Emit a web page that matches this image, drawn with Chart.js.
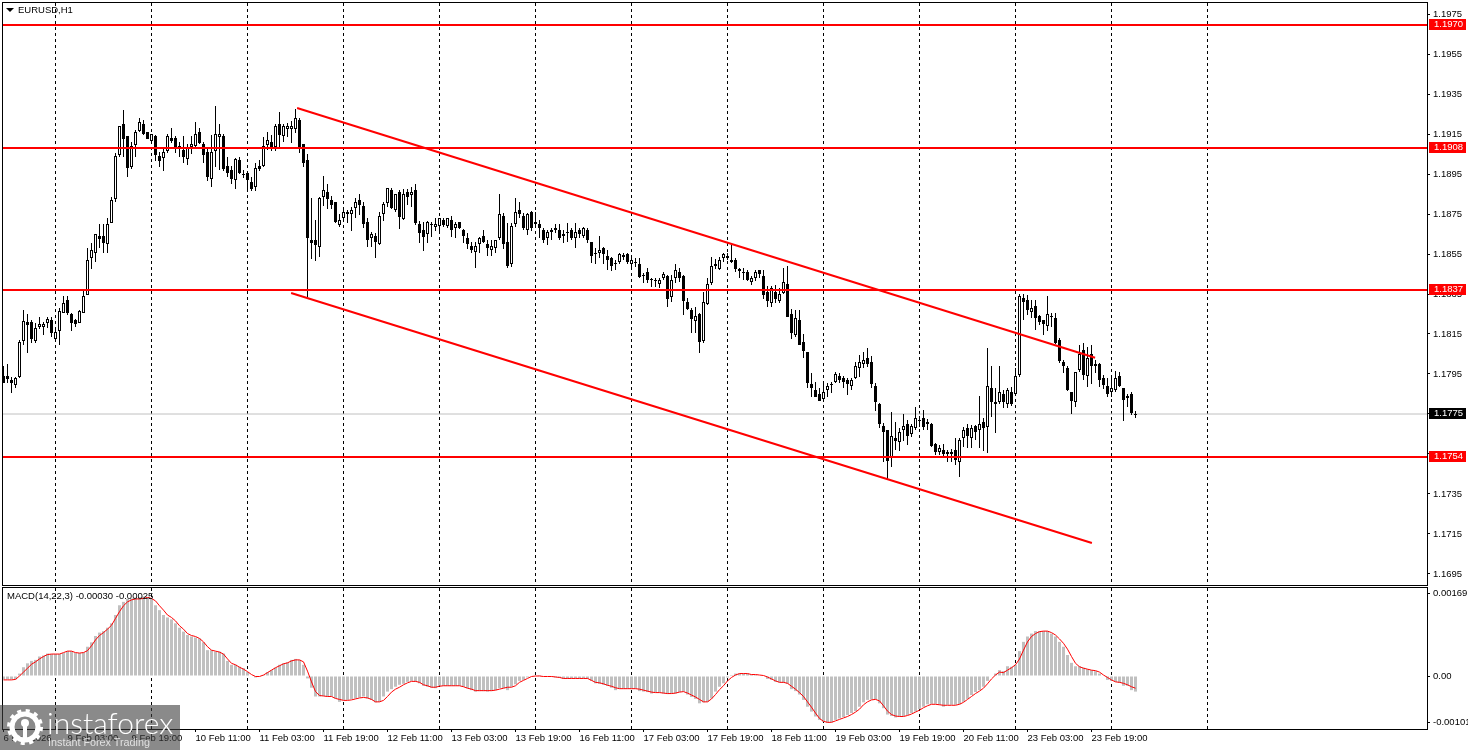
<!DOCTYPE html>
<html>
<head>
<meta charset="utf-8">
<title>EURUSD,H1</title>
<script src="https://cdn.jsdelivr.net/npm/chart.js@4/dist/chart.umd.min.js"></script>
<style>
  html, body { margin: 0; padding: 0; background: #fff; width: 1468px; height: 750px; overflow: hidden; }
  canvas { position: absolute; left: 0; }
  #priceChart { top: 0; }
  #macdChart { top: 587px; }
  .paneTitle { position: absolute; font: 9.5px "Liberation Sans", sans-serif; color: #000; white-space: nowrap; }
  #arrow { position: absolute; left: 6px; top: 8px; width: 0; height: 0; border-left: 4px solid transparent; border-right: 4px solid transparent; border-top: 4px solid #000; }
  #logoBox { position: absolute; left: 0; top: 705px; width: 180px; height: 45px; background: rgba(60, 60, 60, 0.6); }
  #logoBox svg { position: absolute; left: 7px; top: 4px; }
  #logoName { position: absolute; left: 47px; top: -1px; font: 300 30px Lato, sans-serif; color: #fff; white-space: nowrap; }
  #logoSub { position: absolute; left: 48px; top: 31px; font: 10.8px "Liberation Sans", sans-serif; color: rgba(255, 255, 255, 0.75); white-space: nowrap; }
</style>
</head>
<body>
<canvas id="priceChart" width="1468" height="587"></canvas>
<canvas id="macdChart" width="1468" height="163"></canvas>
<div id="arrow"></div>
<div class="paneTitle" style="left:18px;top:4px">EURUSD,H1</div>
<div class="paneTitle" style="left:7px;top:590px">MACD(14,22,3) -0.00030 -0.00025</div>
<div id="logoBox">
  <svg width="36" height="36" viewBox="0 0 36 36">
    <circle cx="18" cy="18" r="13" fill="none" stroke="#fff" stroke-width="5"/>
    <circle cx="18" cy="18" r="16" fill="none" stroke="#fff" stroke-width="4" stroke-dasharray="4 4.4"/>
    <circle cx="18" cy="14" r="4" fill="#fff"/>
    <rect x="16" y="14" width="4" height="15" fill="#fff"/>
  </svg>
  <div id="logoName">instaforex</div>
  <div id="logoSub">Instant Forex Trading</div>
</div>

<script>
// Candles, one hour each
const opens = [
  1.1794,1.1794,1.1792,1.17895,1.17935,1.18115,1.1821,1.1821,1.18115,1.18185,
  1.18185,1.18205,1.1822,1.18125,1.18165,1.18255,1.1832,1.1825,1.1822,1.18205,
  1.18255,1.18345,1.1853,1.18555,1.1864,1.1864,1.186,1.18705,1.18825,1.19045,
  1.192,1.1914,1.18985,1.19095,1.19165,1.192,1.1916,1.19115,1.1914,1.1904,
  1.1903,1.19065,1.1913,1.1913,1.1909,1.1907,1.19025,1.19085,1.1909,1.1916,
  1.191,1.1906,1.18925,1.19065,1.19135,1.1914,1.1899,1.1897,1.1892,1.1902,
  1.1895,1.18955,1.1891,1.18885,1.1899,1.1899,1.19095,1.1911,1.19085,1.192,
  1.1914,1.19175,1.19175,1.19175,1.1922,1.191,1.1902,1.1862,1.1862,1.18585,
  1.18835,1.1886,1.1882,1.1881,1.18695,1.1873,1.1875,1.1875,1.1878,1.1882,
  1.1879,1.1871,1.1863,1.1864,1.186,1.1875,1.18805,1.1887,1.1877,1.1886,
  1.18725,1.1886,1.18845,1.1887,1.187,1.1867,1.1865,1.187,1.18685,1.1869,
  1.1872,1.1869,1.1872,1.1868,1.1871,1.1867,1.1863,1.1859,1.1856,1.186,
  1.1864,1.186,1.1857,1.1858,1.1863,1.1874,1.1861,1.185,1.187,1.1877,
  1.1874,1.1867,1.1876,1.187,1.187,1.1867,1.1863,1.1867,1.1867,1.1867,
  1.1864,1.1866,1.1867,1.1863,1.1867,1.1864,1.1867,1.1861,1.18555,1.18555,
  1.1858,1.1854,1.1853,1.18505,1.1851,1.18535,1.1855,1.185,1.1851,1.185,
  1.18445,1.1846,1.18425,1.1842,1.184,1.1843,1.1844,1.18335,1.1843,1.1846,
  1.1844,1.1831,1.1827,1.18215,1.1825,1.18115,1.183,1.18405,1.185,1.18475,
  1.1853,1.1854,1.1852,1.1852,1.18475,1.1846,1.1846,1.1841,1.1843,1.1847,
  1.1844,1.1836,1.18305,1.1836,1.18315,1.18355,1.184,1.1825,1.18145,1.1822,
  1.1811,1.1806,1.179,1.1787,1.1785,1.17825,1.1787,1.179,1.1791,1.1794,
  1.1793,1.1792,1.1789,1.1793,1.1798,1.18,1.1803,1.1801,1.1789,1.178,
  1.1769,1.1767,1.1753,1.1763,1.1761,1.1767,1.177,1.1765,1.1768,1.1772,
  1.1773,1.177,1.177,1.176,1.1756,1.1757,1.1755,1.1755,1.1757,1.1751,
  1.1763,1.1768,1.1763,1.1769,1.1767,1.1771,1.17685,1.1788,1.178,1.1781,
  1.1785,1.178,1.1786,1.1785,1.17945,1.1833,1.1832,1.1826,1.1829,1.1824,
  1.1822,1.1819,1.18235,1.1823,1.1812,1.1801,1.1798,1.1786,1.1781,1.1797,
  1.1807,1.1794,1.1805,1.18,1.18,1.1793,1.1789,1.1786,1.1787,1.1794,
  1.1788,1.1783,1.1785,1.1775
];
const highs = [
  1.1799,1.18,1.17935,1.17935,1.1812,1.1827,1.1825,1.1822,1.18205,1.18235,
  1.1821,1.18235,1.18235,1.1817,1.1828,1.1834,1.1834,1.18255,1.18225,1.1827,
  1.1837,1.1858,1.18605,1.1865,1.187,1.187,1.1873,1.18835,1.19055,1.1919,
  1.1927,1.1914,1.1911,1.1917,1.1923,1.1922,1.1916,1.1915,1.19145,1.1906,
  1.1908,1.1915,1.1918,1.1914,1.1911,1.1914,1.191,1.1914,1.1921,1.1918,
  1.1911,1.19085,1.19145,1.1929,1.192,1.1915,1.19035,1.1899,1.1903,1.19035,
  1.1897,1.1896,1.18935,1.19005,1.1902,1.19135,1.1916,1.19145,1.192,1.1926,
  1.192,1.19205,1.19215,1.19275,1.1923,1.191,1.1905,1.1883,1.1872,1.18835,
  1.1894,1.189,1.1884,1.1881,1.1875,1.1877,1.1877,1.18785,1.1883,1.1885,
  1.1881,1.1873,1.1866,1.18655,1.1876,1.1881,1.1888,1.1888,1.1885,1.1887,
  1.18875,1.18875,1.18885,1.189,1.18715,1.1871,1.18715,1.1871,1.1873,1.1873,
  1.1873,1.1873,1.1874,1.1871,1.1871,1.18675,1.18655,1.1861,1.1861,1.18635,
  1.1867,1.1862,1.1862,1.1862,1.1885,1.18755,1.18705,1.18705,1.1883,1.1881,
  1.18755,1.18755,1.18765,1.1876,1.1872,1.1868,1.1867,1.1868,1.187,1.187,
  1.1867,1.18705,1.1868,1.18705,1.1868,1.18685,1.1868,1.1861,1.1858,1.1864,
  1.18585,1.1857,1.18535,1.1852,1.18555,1.18555,1.18555,1.18535,1.1853,1.1853,
  1.18455,1.1848,1.1843,1.1843,1.1843,1.1846,1.18445,1.18445,1.185,1.1848,
  1.18445,1.1833,1.1828,1.18285,1.18255,1.1836,1.1843,1.18535,1.18525,1.18535,
  1.18555,1.18555,1.18595,1.1853,1.1848,1.1848,1.1847,1.1844,1.1847,1.1847,
  1.1847,1.1839,1.1839,1.18395,1.1838,1.1848,1.1849,1.18275,1.1827,1.1827,
  1.1815,1.1806,1.17955,1.1791,1.1788,1.1791,1.17905,1.1791,1.1796,1.17955,
  1.1794,1.1793,1.1793,1.1801,1.18045,1.1806,1.1808,1.1804,1.17905,1.17805,
  1.17705,1.1767,1.1776,1.1771,1.1768,1.1775,1.1772,1.177,1.17785,1.1774,
  1.1777,1.17725,1.17705,1.17605,1.17595,1.176,1.1757,1.17575,1.1763,1.1763,
  1.17685,1.177,1.17695,1.17695,1.1784,1.1773,1.1808,1.1799,1.1788,1.1799,
  1.1787,1.1788,1.17885,1.1798,1.1835,1.1835,1.18345,1.1832,1.1832,1.18245,
  1.1822,1.1834,1.18255,1.18255,1.1813,1.1802,1.1799,1.1786,1.1796,1.18095,
  1.18105,1.18085,1.18095,1.1802,1.18005,1.17945,1.1793,1.17945,1.17965,1.1796,
  1.1788,1.1785,1.1786,1.17765
];
const lows = [
  1.17905,1.17905,1.17855,1.1788,1.1793,1.18095,1.18055,1.18105,1.18105,1.18175,
  1.18145,1.1818,1.18135,1.18115,1.18095,1.18255,1.18245,1.18165,1.18185,1.18205,
  1.18255,1.18345,1.18475,1.1851,1.1858,1.18555,1.18555,1.18705,1.1881,1.19035,
  1.19035,1.18935,1.18975,1.19035,1.1916,1.19145,1.19125,1.19105,1.19015,1.18985,
  1.18965,1.19055,1.19105,1.19055,1.19035,1.19005,1.18995,1.1905,1.19085,1.191,
  1.19005,1.18915,1.18885,1.18985,1.1897,1.18965,1.18935,1.189,1.18875,1.1895,
  1.1893,1.1887,1.18865,1.18865,1.18965,1.18985,1.1907,1.19065,1.19065,1.19085,
  1.1911,1.19135,1.19105,1.19155,1.19055,1.18985,1.18335,1.18525,1.18515,1.18535,
  1.1879,1.18775,1.18775,1.18705,1.18685,1.1872,1.18705,1.18665,1.1873,1.18745,
  1.1868,1.18585,1.18585,1.1853,1.18595,1.18715,1.18785,1.18775,1.1876,1.18675,
  1.1872,1.18795,1.18785,1.18695,1.18605,1.18565,1.18605,1.18635,1.18665,1.1866,
  1.18685,1.1868,1.18635,1.1863,1.18675,1.18605,1.18575,1.18555,1.1848,1.18555,
  1.18605,1.1854,1.1854,1.18555,1.1862,1.18575,1.1848,1.18485,1.18685,1.1873,
  1.1867,1.18645,1.18665,1.18685,1.1863,1.18605,1.18595,1.1862,1.18655,1.1862,
  1.18605,1.1861,1.1862,1.1858,1.1863,1.1863,1.18605,1.18505,1.185,1.1853,
  1.185,1.1847,1.18465,1.1847,1.185,1.1852,1.185,1.1847,1.18485,1.1843,
  1.18405,1.18405,1.18385,1.18385,1.1838,1.1842,1.18285,1.1831,1.18405,1.1841,
  1.18245,1.1827,1.18155,1.18155,1.18055,1.18105,1.18295,1.18395,1.18475,1.1847,
  1.1851,1.1852,1.18505,1.1846,1.1843,1.1842,1.18415,1.18395,1.18415,1.1843,
  1.18325,1.18285,1.18285,1.18305,1.18305,1.1835,1.18235,1.18125,1.18135,1.18095,
  1.1803,1.1788,1.17835,1.17835,1.17815,1.17815,1.17835,1.17855,1.17905,1.17905,
  1.1788,1.17845,1.1787,1.17925,1.17935,1.1798,1.17985,1.1788,1.17765,1.1768,
  1.1751,1.1742,1.17485,1.1757,1.17565,1.17615,1.17595,1.17635,1.1767,1.17685,
  1.1767,1.1767,1.17585,1.17545,1.17545,1.1753,1.1751,1.1751,1.17495,1.17435,
  1.17585,1.1758,1.1758,1.1762,1.1758,1.17565,1.17555,1.17735,1.17655,1.178,
  1.1778,1.1778,1.1779,1.17845,1.17935,1.1822,1.18245,1.1823,1.1817,1.18195,
  1.18145,1.18165,1.18185,1.181,1.18005,1.17955,1.17865,1.1775,1.17785,1.1796,
  1.1792,1.17885,1.179,1.17955,1.17885,1.17875,1.17835,1.17835,1.1786,1.17885,
  1.17715,1.17785,1.17745,1.1773
];
const closes = [
  1.17905,1.17925,1.17905,1.1793,1.1811,1.18215,1.18195,1.18125,1.1818,1.182,
  1.182,1.18225,1.18155,1.1816,1.18265,1.18305,1.18255,1.18205,1.182,1.18265,
  1.1834,1.1852,1.1857,1.1865,1.18625,1.18605,1.187,1.1882,1.1904,1.1919,
  1.19125,1.1898,1.1909,1.1916,1.1921,1.1915,1.19125,1.1915,1.19045,1.19015,
  1.1906,1.1914,1.19115,1.1908,1.19085,1.19035,1.19085,1.191,1.1915,1.19105,
  1.19045,1.18935,1.1906,1.1915,1.1915,1.18975,1.18955,1.18925,1.19025,1.18955,
  1.18945,1.1892,1.18875,1.1898,1.18975,1.1909,1.1912,1.19085,1.1919,1.19145,
  1.1919,1.1919,1.1919,1.1923,1.19085,1.19005,1.1863,1.18605,1.18595,1.1883,
  1.1887,1.18825,1.18795,1.1871,1.1872,1.1876,1.1876,1.1877,1.1881,1.18795,
  1.187,1.1862,1.1865,1.1861,1.1874,1.188,1.1888,1.1878,1.1885,1.18735,
  1.1885,1.18835,1.1886,1.18705,1.18655,1.18635,1.1871,1.18695,1.187,1.1873,
  1.18695,1.1873,1.1867,1.187,1.1868,1.1864,1.186,1.1857,1.1859,1.1863,
  1.1861,1.1858,1.1859,1.1862,1.1875,1.186,1.1849,1.1869,1.1876,1.1875,
  1.1868,1.1875,1.1868,1.1871,1.1868,1.1862,1.1866,1.1866,1.1868,1.1863,
  1.1865,1.18655,1.1863,1.1866,1.1865,1.1868,1.1862,1.1854,1.1855,1.1857,
  1.1855,1.1852,1.1849,1.185,1.1855,1.18545,1.1851,1.1852,1.18505,1.18435,
  1.1844,1.1842,1.1842,1.18415,1.1842,1.1845,1.18325,1.1842,1.1847,1.1843,
  1.18315,1.18275,1.18225,1.1824,1.1811,1.1831,1.184,1.1849,1.1849,1.1852,
  1.1855,1.1853,1.1851,1.18475,1.18465,1.18455,1.1842,1.1843,1.1846,1.1845,
  1.18345,1.18315,1.1838,1.18325,1.1835,1.1841,1.18235,1.18155,1.1823,1.18095,
  1.18065,1.17905,1.1788,1.17835,1.17815,1.1786,1.1789,1.17895,1.1795,1.1792,
  1.1791,1.179,1.1792,1.1799,1.1801,1.1802,1.18,1.179,1.1781,1.177,
  1.1766,1.17515,1.1764,1.17615,1.1766,1.1769,1.1764,1.1769,1.1773,1.17715,
  1.17685,1.1771,1.1759,1.1756,1.1758,1.1755,1.1756,1.1756,1.1752,1.1762,
  1.1767,1.1764,1.1768,1.1766,1.177,1.1768,1.1789,1.1781,1.1781,1.1786,
  1.1781,1.1787,1.178,1.1794,1.1834,1.1831,1.1827,1.1828,1.1823,1.1821,
  1.182,1.1825,1.1824,1.18105,1.18015,1.1799,1.1787,1.17815,1.1796,1.1805,
  1.17945,1.1803,1.1799,1.1799,1.1792,1.17895,1.1785,1.1788,1.1793,1.1789,
  1.1782,1.1784,1.17755,1.17745
];

// MACD histogram and signal line, in points (0.00001)
const macdHist = [
  -7,-7,-7,-7,5,18,26,31,33,40,
  42,46,45,45,45,47,51,51,47,47,
  48,60,69,82,89,92,99,108,125,145,
  152,158,159,161,162,163,162,158,145,135,
  125,120,116,108,99,91,84,81,79,77,
  69,53,53,50,50,46,31,23,23,19,
  16,8,1,-3,-1,2,8,12,17,23,
  26,28,33,35,33,23,-5,-24,-42,-42,
  -41,-42,-42,-46,-53,-49,-49,-47,-46,-44,
  -42,-46,-49,-54,-53,-42,-32,-27,-22,-18,
  -16,-12,-10,-12,-15,-20,-22,-24,-25,-20,
  -20,-20,-20,-20,-20,-22,-25,-29,-32,-31,
  -31,-32,-31,-29,-25,-25,-29,-22,-17,-10,
  -8,-3,1,1,2,0,-1,-2,-3,-4,
  -6,-6,-5,-5,-5,-5,-6,-10,-15,-16,
  -18,-20,-24,-29,-26,-26,-26,-26,-26,-31,
  -32,-33,-36,-34,-34,-36,-37,-36,-36,-33,
  -32,-38,-43,-47,-56,-54,-53,-46,-32,-22,
  -15,-3,2,5,5,5,5,3,2,1,
  -1,-6,-8,-12,-13,-14,-16,-27,-31,-38,
  -49,-63,-73,-83,-90,-94,-96,-95,-90,-87,
  -84,-80,-76,-72,-63,-54,-49,-48,-48,-56,
  -66,-79,-82,-85,-83,-82,-80,-76,-73,-68,
  -63,-58,-57,-57,-59,-63,-59,-59,-59,-58,
  -53,-47,-39,-33,-29,-22,-10,-1,5,12,
  10,20,19,23,51,70,81,87,92,92,
  92,92,87,81,70,60,43,27,20,20,
  17,14,12,10,5,-1,-8,-10,-12,-14,
  -20,-20,-29,-32
];
const macdSignal = [
  -8,-8,-8,-7,0,8,16,24,29,35,
  40,44,45,45,45,48,51,51,48,47,
  48,52,62,74,83,89,96,104,118,132,
  144,152,156,158,158,159,161,159,154,144,
  135,125,120,113,103,96,87,83,81,77,
  70,60,53,51,49,45,35,26,23,18,
  14,9,3,-1,-1,2,7,12,17,21,
  25,27,31,33,33,29,10,-12,-32,-40,
  -41,-42,-42,-46,-48,-50,-50,-49,-47,-45,
  -44,-45,-48,-53,-53,-50,-42,-33,-27,-23,
  -18,-14,-11,-11,-13,-18,-20,-23,-23,-21,
  -20,-20,-20,-20,-20,-22,-25,-27,-30,-30,
  -30,-30,-30,-29,-27,-25,-23,-23,-20,-13,
  -9,-5,-1,0,0,-1,-1,-1,-2,-3,
  -5,-5,-5,-5,-5,-5,-5,-9,-13,-14,
  -16,-19,-21,-24,-26,-26,-26,-26,-26,-27,
  -29,-31,-33,-34,-34,-35,-36,-36,-35,-33,
  -32,-35,-39,-43,-48,-53,-53,-47,-38,-28,
  -20,-10,-3,2,5,5,5,3,3,2,
  1,-2,-6,-10,-13,-13,-15,-21,-27,-34,
  -42,-53,-64,-76,-87,-93,-95,-95,-92,-89,
  -86,-83,-79,-74,-68,-59,-53,-49,-48,-51,
  -61,-72,-79,-82,-83,-83,-81,-78,-74,-70,
  -65,-61,-58,-58,-59,-60,-60,-60,-60,-58,
  -54,-48,-42,-36,-31,-25,-16,-6,2,8,
  7,12,17,23,35,53,70,81,87,91,
  92,92,89,84,76,67,55,40,26,19,
  16,14,12,11,8,2,-3,-8,-12,-13,
  -15,-18,-22,-25
];

// Horizontal levels and the falling channel drawn on the chart
const levels = [1.19695, 1.1908, 1.1837, 1.17535];
const levelLabels = ['1.1970', '1.1908', '1.1837', '1.1754'];
const lastPrice = 1.1775;
const channelTopBars = [73.4, 272.9];
const channelTopPrices = [1.1928, 1.18031];
const channelBottomBars = [71.9, 272.1];
const channelBottomPrices = [1.18355, 1.17105];

// Axis ticks
const priceTicks = [1.1975, 1.1955, 1.1935, 1.1915, 1.1895, 1.1875, 1.1855, 1.1835, 1.1815, 1.1795, 1.1775, 1.1755, 1.1735, 1.1715, 1.1695];
const macdTicks = [169, 0, -95];
const macdTickLabels = ['0.00169', '0.00', '-0.00101'];
const gridBars = [13, 37, 61, 85, 109, 133, 157, 181, 205, 229, 253, 277, 301];
const dateBars = [0, 16, 32, 48, 64, 80, 96, 112, 128, 144, 160, 176, 192, 208, 224, 240, 256, 272];
const dateLabels = ['6 Feb 2026', '9 Feb 03:00', '9 Feb 19:00', '10 Feb 11:00', '11 Feb 03:00', '11 Feb 19:00',
  '12 Feb 11:00', '13 Feb 03:00', '13 Feb 19:00', '16 Feb 11:00', '17 Feb 03:00', '17 Feb 19:00',
  '18 Feb 11:00', '19 Feb 03:00', '19 Feb 19:00', '20 Feb 11:00', '23 Feb 03:00', '23 Feb 19:00'];

// Visible range, 4px per bar
const firstBar = -0.125;
const lastBar = 355.875;
const axisFont = { family: '"Liberation Sans", sans-serif', size: 9.5 };

function hLine(value, color, width, order) {
    return {
        type: 'line',
        data: [{ x: firstBar, y: value }, { x: lastBar, y: value }],
        borderColor: color,
        borderWidth: width,
        pointRadius: 0,
        order: order
    };
}

function channelLine(bars, prices) {
    return {
        type: 'line',
        data: bars.map((b, i) => ({ x: b, y: prices[i] })),
        borderColor: '#ff0000',
        borderWidth: 2,
        pointRadius: 0,
        order: 1
    };
}

// The axes ask for room for their outer labels, the panes have fixed sizes
function noAxisPadding(scale) {
    scale.paddingTop = 0;
    scale.paddingBottom = 0;
    scale.paddingLeft = 0;
    scale.paddingRight = 0;
}

// Black border round a pane
function framePlugin(top, bottom) {
    return {
        id: 'paneFrame',
        afterDraw(chart) {
            const ctx = chart.ctx;
            ctx.save();
            ctx.strokeStyle = '#000';
            ctx.lineWidth = 1;
            ctx.strokeRect(2.5, top, 1425, bottom - top);
            ctx.restore();
        }
    };
}

// Price boxes on the right axis
const priceBoxes = {
    id: 'priceBoxes',
    afterDraw(chart) {
        const ctx = chart.ctx;
        const yScale = chart.scales.y;
        const drawBox = (value, label, color) => {
            const y = Math.round(yScale.getPixelForValue(value));
            ctx.fillStyle = color;
            ctx.fillRect(1429, y - 6, 37, 11);
            ctx.fillStyle = '#fff';
            ctx.font = '9.5px "Liberation Sans", sans-serif';
            ctx.textBaseline = 'middle';
            ctx.fillText(label, 1434, y - 0.5);
        };
        ctx.save();
        levels.forEach((level, i) => drawBox(level, levelLabels[i], '#ff0000'));
        drawBox(lastPrice, lastPrice.toFixed(4), '#000');
        ctx.restore();
    }
};

const allBars = gridBars.concat(dateBars).sort((a, b) => a - b);

// Upper pane
new Chart(document.getElementById('priceChart'), {
    type: 'bar',
    data: {
        datasets: [
            {
                data: lows.map((low, i) => ({ x: i, y: [low, highs[i]] })),
                barThickness: 1,
                backgroundColor: '#000',
                borderWidth: 0,
                inflateAmount: 0,
                grouped: false,
                order: 3
            },
            {
                data: opens.map((open, i) => ({ x: i, y: [open, closes[i]] })),
                barThickness: 3,
                backgroundColor: opens.map((open, i) => closes[i] >= open ? '#fff' : '#000'),
                borderColor: '#000',
                borderWidth: 1,
                borderSkipped: false,
                inflateAmount: 0,
                grouped: false,
                order: 2
            },
            hLine(lastPrice, '#c0c0c0', 1, 4),
            ...levels.map(level => hLine(level, '#ff0000', 2, 1)),
            channelLine(channelTopBars, channelTopPrices),
            channelLine(channelBottomBars, channelBottomPrices)
        ]
    },
    options: {
        responsive: false,
        animation: false,
        events: [],
        layout: { autoPadding: false, padding: { left: 3, top: 3, bottom: 2, right: 0 } },
        plugins: { legend: { display: false }, tooltip: { enabled: false } },
        scales: {
            x: {
                type: 'linear',
                min: firstBar,
                max: lastBar,
                offset: false,
                afterBuildTicks: scale => { scale.ticks = gridBars.map(v => ({ value: v })); },
                afterFit: scale => { scale.height = 0; noAxisPadding(scale); },
                ticks: { display: false },
                grid: { offset: false, color: '#000', drawTicks: false },
                border: { display: false, dash: [3, 3] }
            },
            y: {
                position: 'right',
                min: 1.16895,
                max: 1.19805,
                bounds: 'data',
                beginAtZero: false,
                afterBuildTicks: scale => { scale.ticks = priceTicks.map(v => ({ value: v })); },
                afterFit: scale => { scale.width = 41; noAxisPadding(scale); },
                ticks: { color: '#000', font: axisFont, padding: 3, callback: v => v.toFixed(4) },
                grid: { drawOnChartArea: false, tickLength: 3, tickColor: '#000' },
                border: { display: false }
            }
        }
    },
    plugins: [framePlugin(2.5, 585.5), priceBoxes]
});

// MACD pane
new Chart(document.getElementById('macdChart'), {
    type: 'bar',
    data: {
        datasets: [
            {
                data: macdHist.map((v, i) => ({ x: i, y: v })),
                barThickness: 3,
                backgroundColor: '#c0c0c0',
                borderWidth: 0,
                inflateAmount: 0,
                order: 2
            },
            {
                type: 'line',
                data: macdSignal.map((v, i) => ({ x: i, y: v })),
                borderColor: '#ff0000',
                borderWidth: 1,
                pointRadius: 0,
                order: 1
            }
        ]
    },
    options: {
        responsive: false,
        animation: false,
        events: [],
        layout: { autoPadding: false, padding: { left: 3, top: 1, bottom: 0, right: 0 } },
        plugins: { legend: { display: false }, tooltip: { enabled: false } },
        scales: {
            x: {
                type: 'linear',
                min: firstBar,
                max: lastBar,
                offset: false,
                afterBuildTicks: scale => { scale.ticks = allBars.map(v => ({ value: v })); },
                afterFit: scale => { scale.height = 21; noAxisPadding(scale); },
                ticks: {
                    color: '#000',
                    font: axisFont,
                    align: 'start',
                    autoSkip: false,
                    maxRotation: 0,
                    padding: 1,
                    callback: v => {
                        const at = dateBars.indexOf(v);
                        return at >= 0 ? dateLabels[at] : '';
                    }
                },
                grid: {
                    offset: false,
                    tickLength: 3,
                    color: ctx => gridBars.includes(ctx.tick && ctx.tick.value) ? '#000' : 'rgba(0,0,0,0)',
                    tickColor: ctx => dateBars.includes(ctx.tick && ctx.tick.value) ? '#000' : 'rgba(0,0,0,0)',
                    tickBorderDash: []
                },
                border: { display: false, dash: [3, 3] }
            },
            y: {
                position: 'right',
                min: -108.65,
                max: 180.4,
                bounds: 'data',
                beginAtZero: false,
                afterBuildTicks: scale => { scale.ticks = macdTicks.map(v => ({ value: v })); },
                afterFit: scale => { scale.width = 41; noAxisPadding(scale); },
                ticks: {
                    color: '#000',
                    font: axisFont,
                    padding: 3,
                    callback: v => macdTickLabels[macdTicks.indexOf(v)]
                },
                grid: { drawOnChartArea: false, tickLength: 3, tickColor: '#000' },
                border: { display: false }
            }
        }
    },
    plugins: [framePlugin(0.5, 142.5)]
});
</script>
</body>
</html>
